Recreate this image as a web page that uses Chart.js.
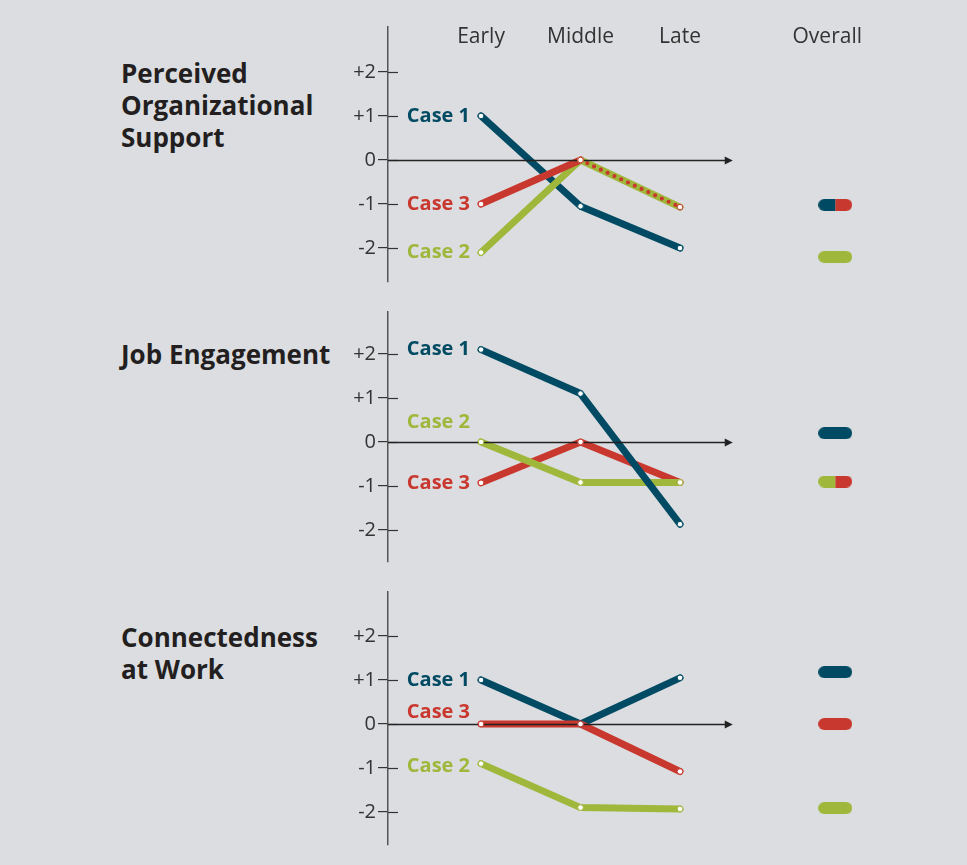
<!DOCTYPE html>
<html>
<head>
<meta charset="utf-8">
<script src="https://cdn.jsdelivr.net/npm/chart.js@4.4.1/dist/chart.umd.min.js"></script>
<style>
  body { margin: 0; background: #dcdde0; width: 967px; height: 865px; position: relative; overflow: hidden; font-family: 'Open Sans', sans-serif; }
  canvas { position: absolute; left: 0; }
  .title { position: absolute; left: 121px; font-weight: 700; font-size: 26px; line-height: 32px; color: #231f20; }
</style>
</head>
<body>
<div class="title" style="top:57px">Perceived<br>Organizational<br>Support</div>
<div class="title" style="top:338px">Job Engagement</div>
<div class="title" style="top:621px">Connectedness<br>at Work</div>
<canvas id="pos" width="967" height="290" style="top:0"></canvas>
<canvas id="je" width="967" height="285" style="top:290px"></canvas>
<canvas id="cw" width="967" height="290" style="top:575px"></canvas>
<script>
const categories = ['Early', 'Middle', 'Late', 'Overall'];
const categoryX = [0, 1, 2, 3.48];
const stageX = [0, 1, 2];
const overallX = 3.56;
const caseNames = ['Case 1', 'Case 2', 'Case 3'];
const caseColors = ['#004b63', '#9fb73b', '#c9382e'];
const yTickValues = [2, 1, 0, -1, -2];

// Perceived Organizational Support
const posCase1 = [1, -1.05, -2];
const posCase2 = [-2.1, 0, -1.07];
const posCase3 = [-1, 0, -1.07];
const posOverall = [-1.02, -2.2, -1.02];   // case 1, 2, 3
const posLabelY = [1, -2.1, -1];

// Job Engagement
const jeCase1 = [2.1, 1.1, -1.87];
const jeCase2 = [0, -0.92, -0.92];
const jeCase3 = [-0.93, 0, -0.92];
const jeOverall = [0.2, -0.9, -0.9];
const jeLabelY = [2.1, 0.45, -0.95];

// Connectedness at Work
const cwCase1 = [1, 0, 1.05];
const cwCase2 = [-0.9, -1.9, -1.93];
const cwCase3 = [0, 0, -1.08];
const cwOverall = [1.18, -1.91, 0];
const cwLabelY = [1, -0.95, 0.27];

const panels = [
  { id: 'pos', series: [posCase1, posCase2, posCase3], overall: posOverall, labelY: posLabelY,
    order: [2, 1, 0], dotted: 2, yMin: -2.77, yMax: 3.02, padTop: 27, padBottom: 8, showCats: true },
  { id: 'je', series: [jeCase1, jeCase2, jeCase3], overall: jeOverall, labelY: jeLabelY,
    order: [0, 1, 2], dotted: null, yMin: -2.73, yMax: 2.955, padTop: 22, padBottom: 13, showCats: false },
  { id: 'cw', series: [cwCase1, cwCase2, cwCase3], overall: cwOverall, labelY: cwLabelY,
    order: [1, 2, 0], dotted: null, yMin: -2.75, yMax: 3.0, padTop: 17, padBottom: 20, showCats: false }
];

function makePill(left, right) {
  const c = document.createElement('canvas');
  c.width = 34; c.height = 12;
  const g = c.getContext('2d');
  g.beginPath();
  g.roundRect(0, 0, 34, 12, 6);
  g.clip();
  if (left) { g.fillStyle = left; g.fillRect(0, 0, 17, 12); }
  if (right) { g.fillStyle = right; g.fillRect(17, 0, 17, 12); }
  return c;
}

// zero axis with arrow, inner tick marks, case labels
const decor = {
  id: 'decor',
  afterDatasetsDraw(chart, args, opts) {
    const ctx = chart.ctx;
    const x = chart.scales.x, y = chart.scales.y;
    const left = chart.chartArea.left;
    ctx.save();
    // inner half of tick marks
    ctx.strokeStyle = '#333';
    ctx.lineWidth = 1.2;
    yTickValues.forEach(v => {
      const py = Math.round(y.getPixelForValue(v)) + 0.5;
      ctx.beginPath(); ctx.moveTo(left, py); ctx.lineTo(left + 10, py); ctx.stroke();
    });
    // zero line
    const y0 = Math.round(y.getPixelForValue(0)) + 0.5;
    const xEnd = x.getPixelForValue(2.53);
    ctx.strokeStyle = '#222';
    ctx.lineWidth = 1.5;
    ctx.beginPath(); ctx.moveTo(left, y0); ctx.lineTo(xEnd - 6, y0); ctx.stroke();
    ctx.fillStyle = '#222';
    ctx.beginPath(); ctx.moveTo(xEnd, y0); ctx.lineTo(xEnd - 8, y0 - 4); ctx.lineTo(xEnd - 8, y0 + 4); ctx.closePath(); ctx.fill();
    // points back on top of the zero line
    chart.getSortedVisibleDatasetMetas().slice().reverse().forEach(meta => {
      if (meta.dataset) meta.data.forEach(p => p.draw(ctx, chart.chartArea));
    });
    // case labels next to the Early points
    ctx.font = 'bold 20px "Open Sans"';
    ctx.textAlign = 'right';
    ctx.textBaseline = 'middle';
    opts.labelY.forEach((v, i) => {
      ctx.fillStyle = caseColors[i];
      ctx.fillText(caseNames[i], x.getPixelForValue(0) - 11, y.getPixelForValue(v));
    });
    ctx.restore();
  }
};

panels.forEach(p => {
  const datasets = p.series.map((vals, i) => ({
    type: 'line',
    label: caseNames[i],
    data: vals.map((v, k) => ({ x: stageX[k], y: v })),
    borderColor: caseColors[i],
    borderWidth: 7,
    borderCapStyle: 'round',
    borderJoinStyle: 'round',
    pointRadius: 2.8,
    pointBorderWidth: 1,
    pointBackgroundColor: '#fff',
    pointBorderColor: caseColors[i],
    order: p.order[i],
    segment: p.dotted === i ? {
      borderDash: c => c.p0DataIndex === 1 ? [0, 7.5] : undefined,
      borderWidth: c => c.p0DataIndex === 1 ? 4.2 : undefined
    } : undefined
  }));
  p.overall.forEach((v, i) => {
    const j = p.overall.findIndex((w, k) => k !== i && w === v);
    const img = j < 0 ? makePill(caseColors[i], caseColors[i])
      : (i < j ? makePill(caseColors[i], null) : makePill(null, caseColors[i]));
    datasets.push({
      type: 'scatter',
      label: caseNames[i] + ' overall',
      data: [{ x: overallX, y: v }],
      pointStyle: img,
      order: -1
    });
  });

  new Chart(document.getElementById(p.id), {
    data: { datasets },
    options: {
      responsive: false,
      animation: false,
      events: [],
      layout: { autoPadding: false, padding: { left: 328, right: 67, top: p.padTop, bottom: p.padBottom } },
      plugins: { legend: { display: false }, tooltip: { enabled: false }, decor: { labelY: p.labelY } },
      scales: {
        x: {
          type: 'linear',
          position: 'top',
          min: -0.935,
          max: 4.211,
          display: p.showCats,
          grid: { display: false },
          border: { display: false },
          afterBuildTicks: s => { s.ticks = categoryX.map(v => ({ value: v })); },
          afterFit: s => { s.height = 0; },
          ticks: {
            autoSkip: false,
            maxRotation: 0,
            mirror: true,
            padding: -3,
            color: '#333',
            font: { family: 'Open Sans', size: 21 },
            callback: (v, i) => categories[i]
          }
        },
        y: {
          type: 'linear',
          min: p.yMin,
          max: p.yMax,
          afterBuildTicks: s => { s.ticks = yTickValues.map(v => ({ value: v })); },
          afterFit: s => { s.width = 60; s.paddingTop = 0; s.paddingBottom = 0; },
          grid: { drawOnChartArea: false, drawTicks: true, tickLength: 10, color: '#333', lineWidth: 1.2 },
          border: { display: true, color: '#555', width: 1.5 },
          ticks: {
            padding: 2,
            color: '#333',
            font: { family: 'Open Sans', size: 20 },
            callback: v => v > 0 ? '+' + v : String(v)
          }
        }
      }
    },
    plugins: [decor]
  });
});
</script>
</body>
</html>
